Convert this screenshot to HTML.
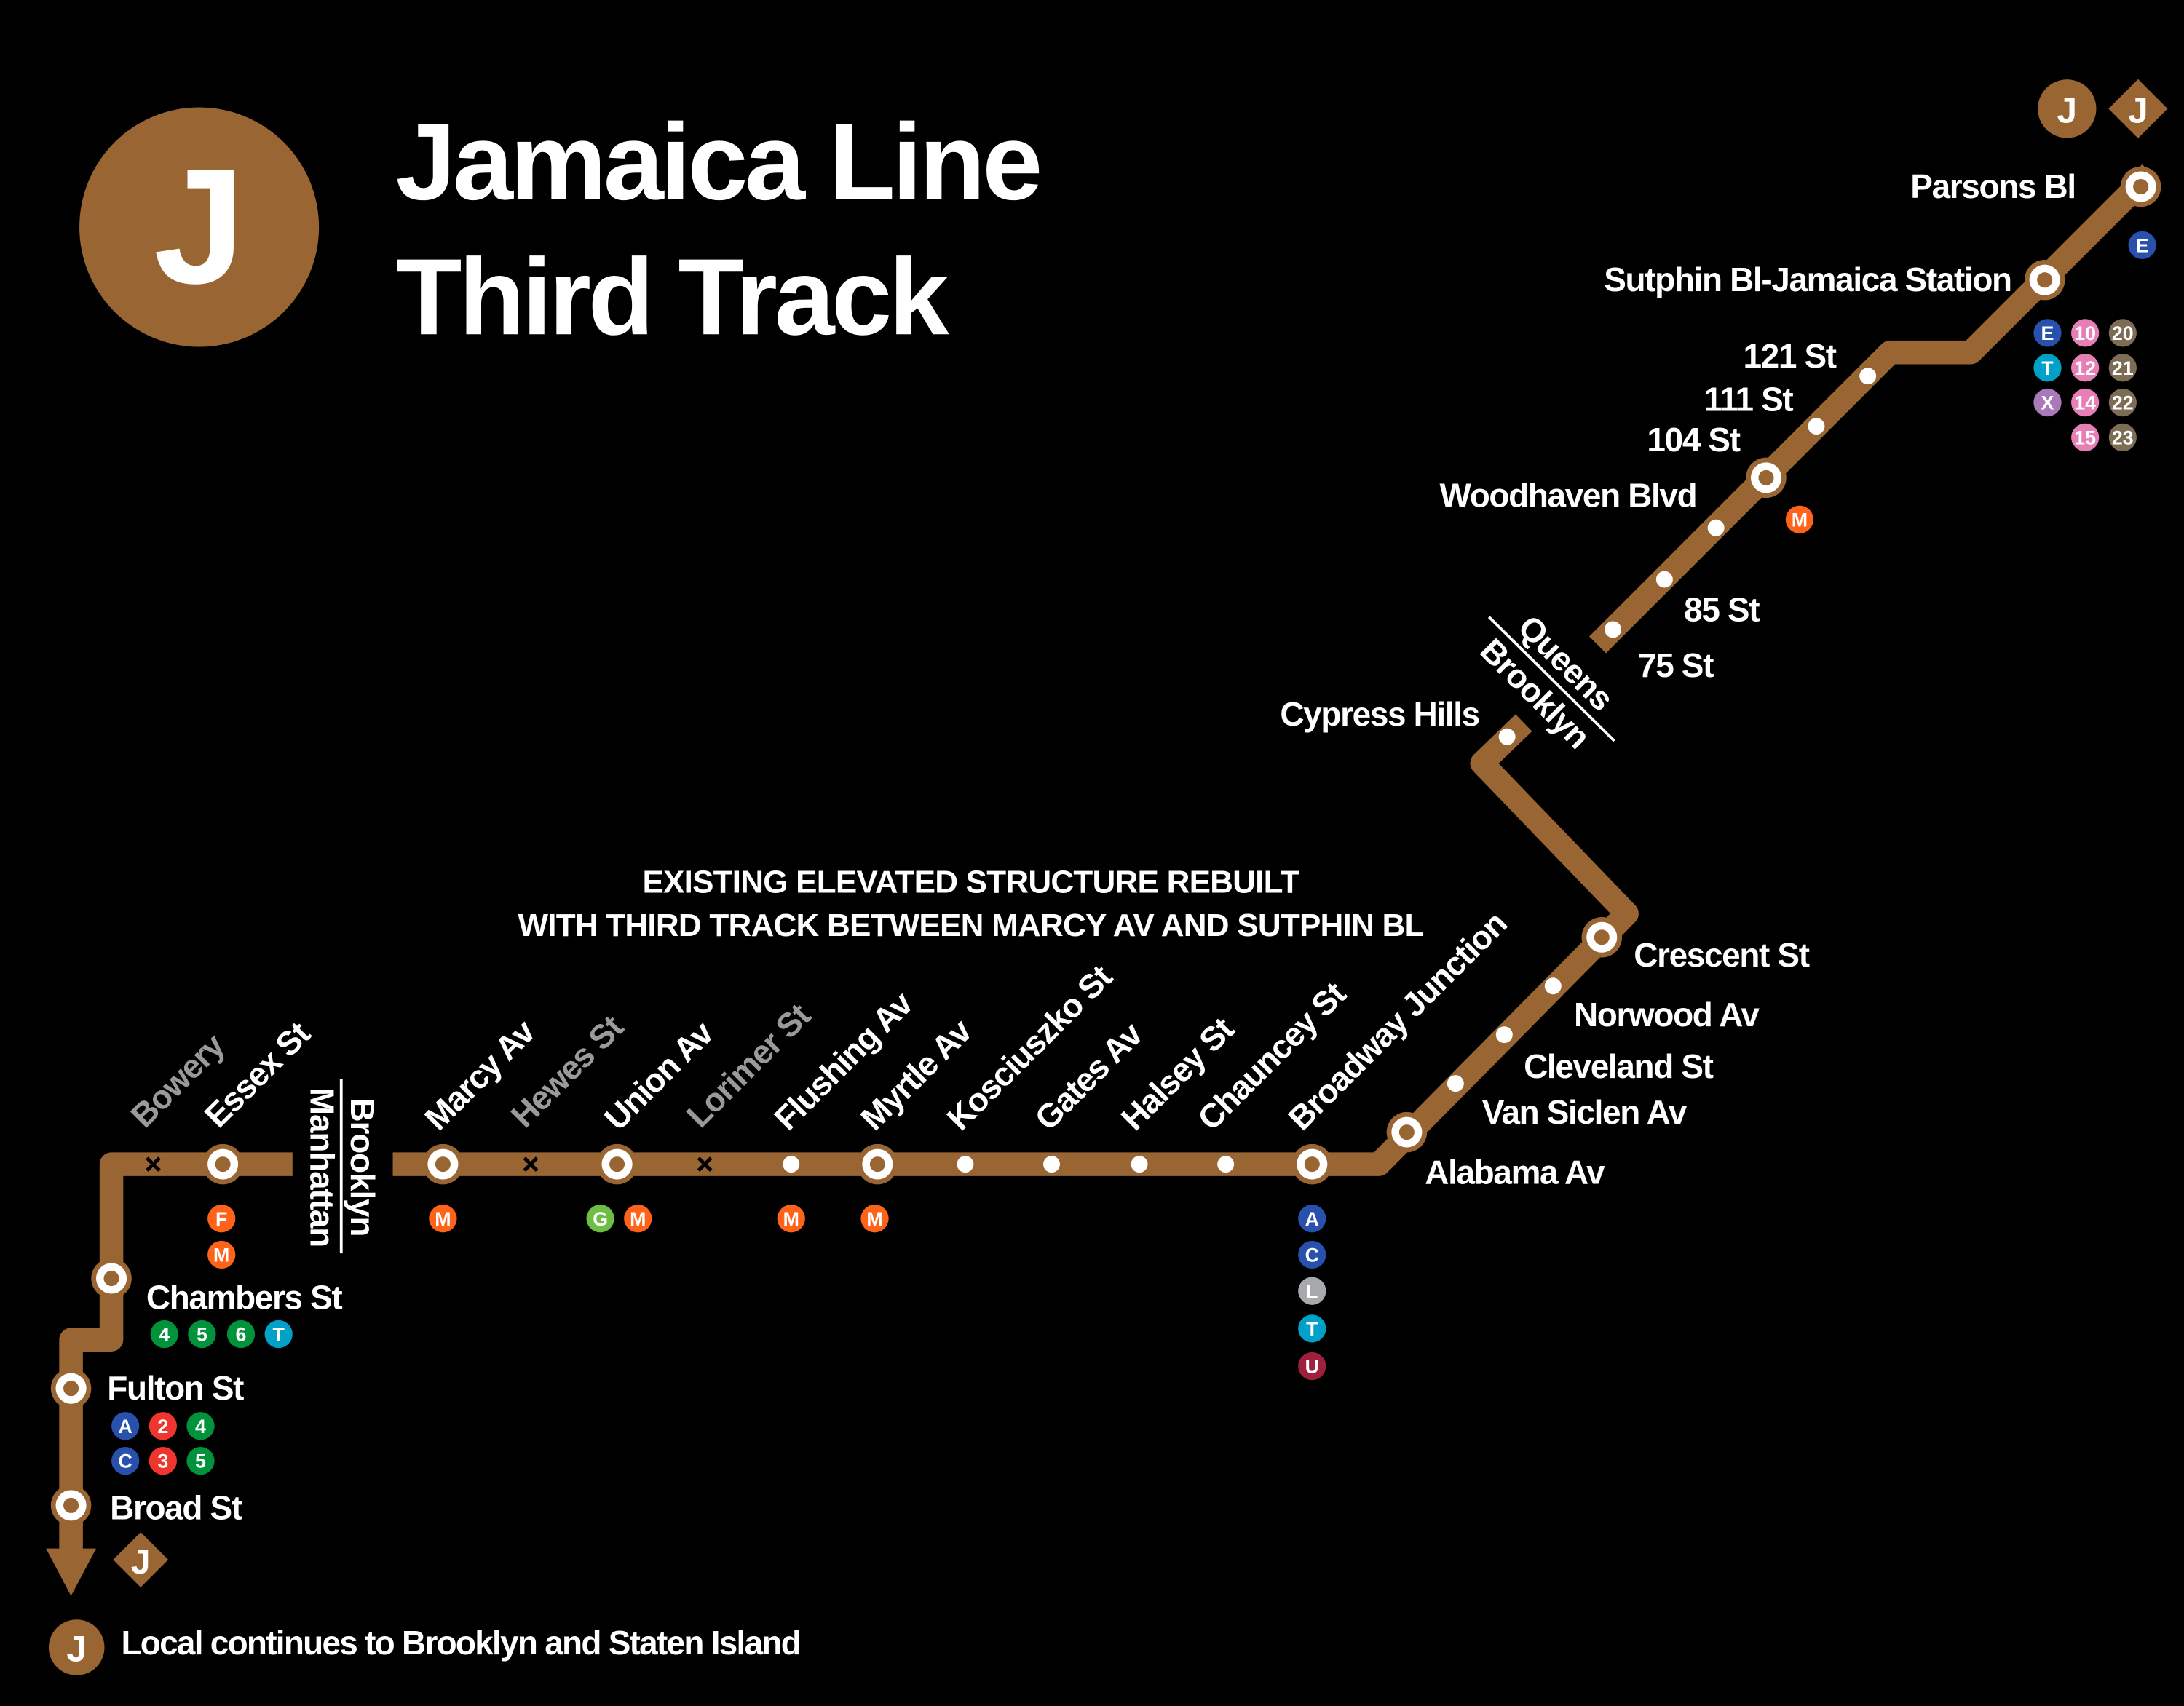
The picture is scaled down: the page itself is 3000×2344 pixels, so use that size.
<!DOCTYPE html>
<html><head><meta charset="utf-8"><style>
html,body{margin:0;padding:0;background:#000;}
svg{display:block;}
text{font-family:"Liberation Sans",Arial,sans-serif;font-weight:bold;fill:#fff;}
</style></head><body>
<svg width="3000" height="2344" viewBox="0 0 1568 1225" xmlns="http://www.w3.org/2000/svg">
<rect width="1568" height="1225" fill="#000"/>
<defs>
<g id="st"><circle r="14.5" fill="#996633"/><circle r="11" fill="#fff"/><circle r="5.5" fill="#996633"/></g>
<g id="dt"><circle r="6" fill="#fff"/></g>
<g id="xx"><path d="M-4.5,-4.5L4.5,4.5M4.5,-4.5L-4.5,4.5" stroke="#000" stroke-width="2.6"/></g>
</defs>
<circle cx="143" cy="163" r="86" fill="#996633"/>
<text x="143" y="203" font-size="118" text-anchor="middle">J</text>
<text x="284" y="143" font-size="78" letter-spacing="-2.3">Jamaica Line</text>
<text x="284" y="240" font-size="78" letter-spacing="-2.3">Third Track</text>
<circle cx="1484" cy="78" r="21" fill="#996633"/>
<text x="1484" y="88" font-size="26" text-anchor="middle">J</text>
<rect x="1520" y="63" width="30" height="30" fill="#996633" transform="rotate(45 1535 78)"/>
<text x="1535" y="88" font-size="26" text-anchor="middle">J</text>
<g fill="none" stroke="#996633" stroke-width="17" stroke-linejoin="round">
<path d="M51,1115 L51,962 L80,962 L80,836 L210,836"/>
<path d="M282,836 L990,836 L1168,656 L1064,548 L1094,519"/>
<path d="M1147,463 L1357,253 L1415,253 L1544,124"/>
</g>
<path d="M33,1112 L69,1112 L51,1146 Z" fill="#996633"/>
<rect x="87" y="1106" width="28" height="28" fill="#996633" transform="rotate(45 101 1120)"/>
<text x="101" y="1130" font-size="25" text-anchor="middle">J</text>
<line x1="245" y1="775" x2="245" y2="900" stroke="#fff" stroke-width="2"/>
<text transform="translate(223,838) rotate(90)" font-size="24" text-anchor="middle" letter-spacing="-0.6">Manhattan</text>
<text transform="translate(252,838) rotate(90)" font-size="24" text-anchor="middle" letter-spacing="-0.6">Brooklyn</text>
<line x1="1069" y1="443" x2="1159" y2="532" stroke="#fff" stroke-width="2"/>
<text transform="translate(1124,476) rotate(45)" font-size="24" text-anchor="middle" dy="8" letter-spacing="-0.6">Queens</text>
<text transform="translate(1102,498) rotate(45)" font-size="24" text-anchor="middle" dy="8" letter-spacing="-0.6">Brooklyn</text>
<use href="#st" x="1537" y="134"/><use href="#st" x="1468" y="201"/>
<use href="#dt" x="1341" y="270"/><use href="#dt" x="1304" y="306"/>
<use href="#st" x="1268" y="343"/>
<use href="#dt" x="1232" y="379"/><use href="#dt" x="1195" y="416"/><use href="#dt" x="1158" y="452"/>
<use href="#dt" x="1082" y="529"/>
<use href="#st" x="1150" y="673"/>
<use href="#dt" x="1115" y="708"/><use href="#dt" x="1080" y="743"/><use href="#dt" x="1045" y="778"/>
<use href="#st" x="1010" y="813"/>
<use href="#st" x="942" y="836"/>
<use href="#dt" x="880" y="836"/><use href="#dt" x="818" y="836"/><use href="#dt" x="755" y="836"/><use href="#dt" x="693" y="836"/>
<use href="#st" x="630" y="836"/><use href="#dt" x="568" y="836"/>
<use href="#xx" x="506" y="836"/><use href="#st" x="443" y="836"/><use href="#xx" x="381" y="836"/><use href="#st" x="318" y="836"/>
<use href="#st" x="160" y="836"/><use href="#xx" x="110" y="836"/>
<use href="#st" x="80" y="918"/><use href="#st" x="51" y="997"/><use href="#st" x="51" y="1081"/>
<g font-size="24" letter-spacing="-0.7">
<text x="1490" y="142" text-anchor="end">Parsons Bl</text>
<text x="1444" y="209" text-anchor="end">Sutphin Bl-Jamaica Station</text>
<text x="1318" y="264" text-anchor="end">121 St</text>
<text x="1287" y="295" text-anchor="end">111 St</text>
<text x="1249" y="324" text-anchor="end">104 St</text>
<text x="1218" y="364" text-anchor="end">Woodhaven Blvd</text>
<text x="1209" y="446">85 St</text>
<text x="1176" y="486">75 St</text>
<text x="1062" y="521" text-anchor="end">Cypress Hills</text>
<text x="1173" y="694">Crescent St</text>
<text x="1130" y="737">Norwood Av</text>
<text x="1094" y="774">Cleveland St</text>
<text x="1064" y="807">Van Siclen Av</text>
<text x="1023" y="850">Alabama Av</text>
<text x="105" y="940">Chambers St</text>
<text x="77" y="1005">Fulton St</text>
<text x="79" y="1091">Broad St</text>
</g>
<g font-size="23" text-anchor="middle" letter-spacing="-0.4">
<text x="697" y="641">EXISTING ELEVATED STRUCTURE REBUILT</text>
<text x="697" y="672">WITH THIRD TRACK BETWEEN MARCY AV AND SUTPHIN BL</text>
</g>
<g font-size="24" letter-spacing="-0.7">
<text transform="translate(104,811) rotate(-45)" style="fill:#9a9a9a">Bowery</text>
<text transform="translate(157,811) rotate(-45)">Essex St</text>
<text transform="translate(315,813) rotate(-45)">Marcy Av</text>
<text transform="translate(377,811) rotate(-45)" style="fill:#9a9a9a">Hewes St</text>
<text transform="translate(444,813) rotate(-45)">Union Av</text>
<text transform="translate(503,811) rotate(-45)" style="fill:#9a9a9a">Lorimer St</text>
<text transform="translate(566,813) rotate(-45)">Flushing Av</text>
<text transform="translate(628,813) rotate(-45)">Myrtle Av</text>
<text transform="translate(690,813) rotate(-45)">Kosciuszko St</text>
<text transform="translate(753,813) rotate(-45)">Gates Av</text>
<text transform="translate(815,813) rotate(-45)">Halsey St</text>
<text transform="translate(870,813) rotate(-45)">Chauncey St</text>
<text transform="translate(935,813) rotate(-45)">Broadway Junction</text>
</g>
<g font-size="14" text-anchor="middle">
<g><circle cx="1538" cy="176" r="10" fill="#2850ad"/><text x="1538" y="181">E</text></g>
<g><circle cx="1470" cy="239" r="10" fill="#2850ad"/><text x="1470" y="244">E</text></g>
<g><circle cx="1497" cy="239" r="10" fill="#e77fb6"/><text x="1497" y="244">10</text></g>
<g><circle cx="1524" cy="239" r="10" fill="#7d6d55"/><text x="1524" y="244">20</text></g>
<g><circle cx="1470" cy="264" r="10" fill="#00a1c9"/><text x="1470" y="269">T</text></g>
<g><circle cx="1497" cy="264" r="10" fill="#e77fb6"/><text x="1497" y="269">12</text></g>
<g><circle cx="1524" cy="264" r="10" fill="#7d6d55"/><text x="1524" y="269">21</text></g>
<g><circle cx="1470" cy="289" r="10" fill="#a979b9"/><text x="1470" y="294">X</text></g>
<g><circle cx="1497" cy="289" r="10" fill="#e77fb6"/><text x="1497" y="294">14</text></g>
<g><circle cx="1524" cy="289" r="10" fill="#7d6d55"/><text x="1524" y="294">22</text></g>
<g><circle cx="1497" cy="314" r="10" fill="#e77fb6"/><text x="1497" y="319">15</text></g>
<g><circle cx="1524" cy="314" r="10" fill="#7d6d55"/><text x="1524" y="319">23</text></g>
<g><circle cx="1292" cy="373" r="10" fill="#ff6319"/><text x="1292" y="378">M</text></g>
<g><circle cx="942" cy="875" r="10" fill="#2850ad"/><text x="942" y="880">A</text></g>
<g><circle cx="942" cy="901" r="10" fill="#2850ad"/><text x="942" y="906">C</text></g>
<g><circle cx="942" cy="927" r="10" fill="#a7a9ac"/><text x="942" y="932">L</text></g>
<g><circle cx="942" cy="954" r="10" fill="#00a1c9"/><text x="942" y="959">T</text></g>
<g><circle cx="942" cy="981" r="10" fill="#a0203c"/><text x="942" y="986">U</text></g>
<g><circle cx="628" cy="875" r="10" fill="#ff6319"/><text x="628" y="880">M</text></g>
<g><circle cx="568" cy="875" r="10" fill="#ff6319"/><text x="568" y="880">M</text></g>
<g><circle cx="431" cy="875" r="10" fill="#6cbe45"/><text x="431" y="880">G</text></g>
<g><circle cx="458" cy="875" r="10" fill="#ff6319"/><text x="458" y="880">M</text></g>
<g><circle cx="318" cy="875" r="10" fill="#ff6319"/><text x="318" y="880">M</text></g>
<g><circle cx="159" cy="875" r="10" fill="#ff6319"/><text x="159" y="880">F</text></g>
<g><circle cx="159" cy="901" r="10" fill="#ff6319"/><text x="159" y="906">M</text></g>
<g><circle cx="118" cy="958" r="10" fill="#00933c"/><text x="118" y="963">4</text></g>
<g><circle cx="145" cy="958" r="10" fill="#00933c"/><text x="145" y="963">5</text></g>
<g><circle cx="173" cy="958" r="10" fill="#00933c"/><text x="173" y="963">6</text></g>
<g><circle cx="200" cy="958" r="10" fill="#00a1c9"/><text x="200" y="963">T</text></g>
<g><circle cx="90" cy="1024" r="10" fill="#2850ad"/><text x="90" y="1029">A</text></g>
<g><circle cx="117" cy="1024" r="10" fill="#ee352e"/><text x="117" y="1029">2</text></g>
<g><circle cx="144" cy="1024" r="10" fill="#00933c"/><text x="144" y="1029">4</text></g>
<g><circle cx="90" cy="1049" r="10" fill="#2850ad"/><text x="90" y="1054">C</text></g>
<g><circle cx="117" cy="1049" r="10" fill="#ee352e"/><text x="117" y="1054">3</text></g>
<g><circle cx="144" cy="1049" r="10" fill="#00933c"/><text x="144" y="1054">5</text></g>
</g>
<circle cx="55" cy="1183" r="20" fill="#996633"/>
<text x="55" y="1193" font-size="26" text-anchor="middle">J</text>
<text x="87" y="1188" font-size="24" letter-spacing="-0.9">Local continues to Brooklyn and Staten Island</text>
</svg>
</body></html>
